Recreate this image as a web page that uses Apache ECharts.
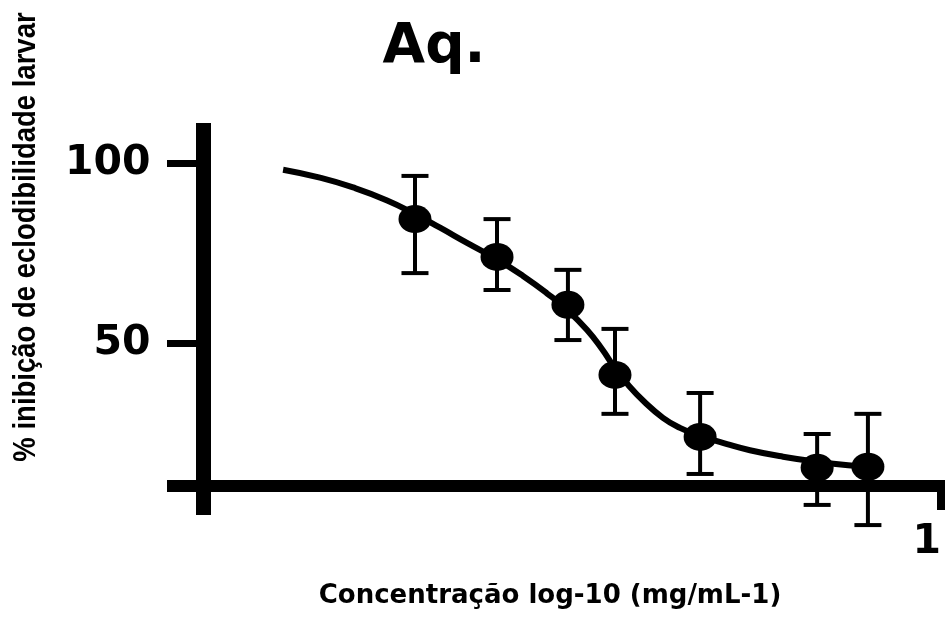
<!DOCTYPE html>
<html>
<head>
<meta charset="utf-8">
<style>html,body{margin:0;padding:0;background:#fff}#chart{width:945px;height:621px}</style>
<script src="https://cdn.jsdelivr.net/npm/echarts@6/dist/echarts.min.js"></script>
</head>
<body>
<div id="chart"></div>
<script>
// log10 concentration of each measured point
const logConc = [-1.699, -1.434, -1.205, -1.053, -0.778, -0.400, -0.236];
const inhibition = [84.4, 73.9, 60.6, 41.1, 23.9, 15.3, 15.6];
const errLow = [69.4, 64.7, 50.8, 30.3, 13.6, 5.0, -0.6];
const errHigh = [96.4, 84.4, 70.3, 53.9, 36.1, 24.7, 30.3];
// fitted curve
const fitX = [-2.125, -2.006, -1.899, -1.789, -1.699, -1.618, -1.531, -1.434, -1.350, -1.273, -1.205, -1.143, -1.095, -1.053, -1.010, -0.960, -0.898, -0.843, -0.778, -0.691, -0.617, -0.510, -0.400, -0.300, -0.187];
const fitY = [98.1, 95.9, 93.2, 89.6, 85.8, 82.0, 77.8, 73.2, 68.6, 63.8, 59.0, 53.6, 48.3, 43.0, 38.3, 33.8, 29.2, 26.4, 24.2, 21.9, 20.2, 18.4, 17.0, 16.0, 15.2];
const yTickValues = [50, 100];
const xTickValues = [0];
const titleText = 'Aq.';
const xTitle = 'Concentração log-10 (mg/mL-1)';
const yTitle = '% inibição de eclodibilidade larvar';

const chart = echarts.init(document.getElementById('chart'), null, {renderer: 'canvas'});
const bold = 'DejaVu Sans';
chart.setOption({
  animation: false,
  backgroundColor: '#fff',
  grid: {left: 167, right: 0, top: 123, bottom: 106, outerBoundsMode: 'none', containLabel: false},
  xAxis: {
    type: 'value', min: -2.5, max: 0.013, position: 'bottom', offset: -29,
    axisLine: {onZero: false, lineStyle: {color: '#000', width: 12, cap: 'butt'}},
    axisTick: {customValues: xTickValues, length: 24, lineStyle: {color: '#000', width: 8, cap: 'butt'}},
    axisLabel: {customValues: xTickValues, formatter: v => String(Math.round(Math.pow(10, v) * 1000) / 1000),
      color: '#000', fontFamily: bold, fontWeight: 'bold', fontSize: 41, margin: 36, align: 'right'},
    splitLine: {show: false}
  },
  yAxis: {
    type: 'value', min: 2.2, max: 111.1, position: 'left', offset: -36.5,
    axisLine: {onZero: false, lineStyle: {color: '#000', width: 15, cap: 'butt'}},
    axisTick: {customValues: yTickValues, length: 36.5, lineStyle: {color: '#000', width: 7, cap: 'butt'}},
    axisLabel: {customValues: yTickValues, color: '#000', fontFamily: bold, fontWeight: 'bold', fontSize: 41, margin: 53},
    splitLine: {show: false}
  },
  graphic: [
    {type: 'text', x: 434, y: 48, style: {text: titleText, font: 'bold 55px "DejaVu Sans"', fill: '#000', align: 'center', verticalAlign: 'middle'}},
    {type: 'text', x: 550, y: 596, style: {text: xTitle, font: 'bold 26px "DejaVu Sans"', fill: '#000', align: 'center', verticalAlign: 'middle'}},
    {type: 'text', x: 26, y: 237, rotation: Math.PI / 2, scaleY: 1.15, style: {text: yTitle, font: 'bold 27.5px "Liberation Sans"', fill: '#000', align: 'center', verticalAlign: 'middle'}}
  ],
  series: [
    {
      type: 'line', data: fitX.map((x, i) => [x, fitY[i]]), smooth: 0.5, showSymbol: false, symbol: 'none',
      lineStyle: {color: '#000', width: 6}, z: 2
    },
    {
      type: 'custom', data: logConc.map((x, i) => [x, errLow[i], errHigh[i]]), z: 3, clip: false,
      renderItem: function (params, api) {
        const x = api.value(0);
        const lo = api.coord([x, api.value(1)]);
        const hi = api.coord([x, api.value(2)]);
        const hw = 13.5;
        const st = {stroke: '#000', lineWidth: 4};
        return {type: 'group', children: [
          {type: 'line', shape: {x1: lo[0], y1: lo[1], x2: hi[0], y2: hi[1]}, style: st},
          {type: 'line', shape: {x1: lo[0] - hw, y1: lo[1], x2: lo[0] + hw, y2: lo[1]}, style: st},
          {type: 'line', shape: {x1: hi[0] - hw, y1: hi[1], x2: hi[0] + hw, y2: hi[1]}, style: st}
        ]};
      }
    },
    {
      type: 'scatter', data: logConc.map((x, i) => [x, inhibition[i]]), symbol: 'circle', symbolSize: [33, 28],
      itemStyle: {color: '#000', opacity: 1}, z: 4
    }
  ]
});
</script>
</body>
</html>
